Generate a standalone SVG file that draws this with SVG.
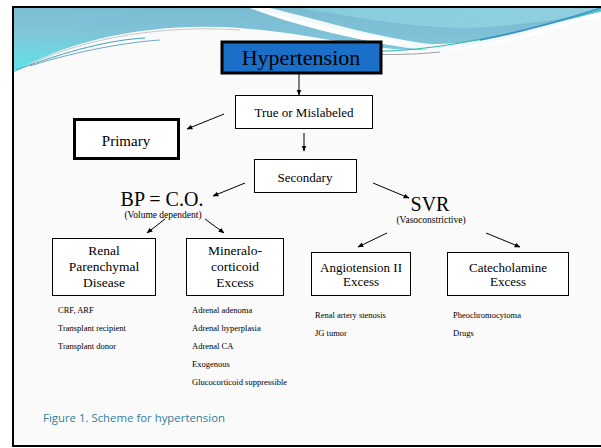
<svg xmlns="http://www.w3.org/2000/svg" width="601" height="448" viewBox="0 0 601 448">
<defs>
<linearGradient id="teal" x1="0" y1="1" x2="0.3" y2="0">
<stop offset="0" stop-color="#5fe3ea"/>
<stop offset="0.6" stop-color="#80c4d8"/>
<stop offset="1" stop-color="#7bbcd3"/>
</linearGradient>
<linearGradient id="teal2" x1="0" y1="0" x2="1" y2="0">
<stop offset="0" stop-color="#8fd8e4"/>
<stop offset="1" stop-color="#9fdbe8"/>
</linearGradient>
<marker id="ah" viewBox="0 0 10 10" refX="9" refY="5" markerWidth="6" markerHeight="6" orient="auto" markerUnits="userSpaceOnUse">
<path d="M0,1 L10,5 L0,9 Z" fill="#000"/>
</marker>
<style>
.box{fill:#fff;stroke:#000;stroke-width:1}
.thick{fill:#fff;stroke:#000;stroke-width:3}
.t{font-family:'Liberation Serif','Times New Roman',serif;fill:#000;text-anchor:middle}
.l{font-family:'Liberation Serif','Times New Roman',serif;fill:#000;font-size:8.5px}
.c line{stroke:#000;stroke-width:1;marker-end:url(#ah)}
</style>
</defs>
<rect x="0" y="0" width="601" height="448" fill="#fff"/>
<rect x="14" y="8" width="590" height="438" fill="#fafafa"/>
<path d="M14,8 L601,8 L601,12 C560,24 500,46 430,50 C370,52 320,34 240,28 C150,22 70,40 14,72 Z" fill="url(#teal)"/>
<path d="M250,8 L270,8 C320,20 370,36 430,44 C490,46 550,22 601,12 L601,16 C550,30 490,52 430,50 C370,46 310,26 250,8 Z" fill="#fff" opacity="0.9"/>
<path d="M250,8 C310,22 360,36 420,44 L390,45 C340,36 290,24 250,8 Z" fill="#ffffff"/>
<path d="M300,8 L601,8 L601,12 C560,20 510,26 470,28 C410,28 350,16 300,8 Z" fill="url(#teal2)" opacity="0.6"/>
<path d="M14,72 C70,42 150,24 240,30" fill="none" stroke="#c8c8c8" stroke-width="1"/>
<path d="M16,70 C70,50 110,40 145,38" fill="none" stroke="#3aa8b8" stroke-width="1"/>
<path d="M30,66 C80,50 130,42 160,40" fill="none" stroke="#4a90c0" stroke-width="0.8"/>
<path d="M330,50 C390,54 450,52 601,10" fill="none" stroke="#30b8a8" stroke-width="1"/>
<path d="M335,53 C390,56 420,54 440,52" fill="none" stroke="#a0a0a0" stroke-width="1"/>
<path d="M480,40 C530,30 570,18 601,8" fill="none" stroke="#3f8ed0" stroke-width="1.5"/>
<path d="M13,446 L13,7 L605,7" fill="none" stroke="#000" stroke-width="2"/>
<line x1="12" y1="446" x2="605" y2="446" stroke="#000" stroke-width="2"/>

<g class="c" id="connectors">
<line x1="299" y1="70" x2="299" y2="95"/>
<line x1="224" y1="114" x2="187" y2="129"/>
<line x1="304" y1="133" x2="304" y2="151"/>
<line x1="245" y1="183" x2="213" y2="196"/>
<line x1="373" y1="183" x2="409" y2="198"/>
<line x1="165" y1="219" x2="147" y2="233"/>
<line x1="205" y1="219" x2="224" y2="233"/>
<line x1="387" y1="233" x2="358" y2="247"/>
<line x1="486" y1="233" x2="520" y2="247"/>
</g>

<g id="hypertension">
<rect x="222" y="42" width="159" height="31" fill="#1a6fc9" stroke="#000" stroke-width="3"/>
<text class="t" x="301" y="65" font-size="22" font-family="Liberation Serif, serif">Hypertension</text>
</g>
<g id="true">
<rect class="box" x="235.5" y="95.5" width="137" height="33"/>
<text class="t" x="304" y="117" font-size="13" font-family="Liberation Serif, serif">True or Mislabeled</text>
</g>
<g id="primary">
<rect class="thick" x="74.5" y="119.5" width="104" height="39"/>
<text class="t" x="126" y="146" font-size="15" font-family="Liberation Serif, serif">Primary</text>
</g>
<g id="secondary">
<rect class="box" x="254.5" y="159.5" width="102" height="33"/>
<text class="t" x="305" y="182" font-size="13" font-family="Liberation Serif, serif">Secondary</text>
</g>
<g id="bp">
<text class="t" x="162" y="206" font-size="20" font-family="Liberation Serif, serif">BP = C.O.</text>
<text class="t" x="163" y="218" font-size="9.5" font-family="Liberation Serif, serif">(Volume dependent)</text>
</g>
<g id="svr">
<text class="t" x="430" y="211" font-size="20" font-family="Liberation Serif, serif">SVR</text>
<text class="t" x="431" y="223" font-size="9.5" font-family="Liberation Serif, serif">(Vasoconstrictive)</text>
</g>
<g id="renal">
<rect class="box" x="52.5" y="238.5" width="103" height="57"/>
<text class="t" x="104" y="255" font-size="13.5" font-family="Liberation Serif, serif">Renal</text>
<text class="t" x="104" y="271" font-size="13.5" font-family="Liberation Serif, serif">Parenchymal</text>
<text class="t" x="104" y="287" font-size="13.5" font-family="Liberation Serif, serif">Disease</text>
</g>
<g id="mineralo">
<rect class="box" x="186.5" y="238.5" width="97" height="57"/>
<text class="t" x="235" y="255" font-size="13.5" font-family="Liberation Serif, serif">Mineralo-</text>
<text class="t" x="235" y="271" font-size="13.5" font-family="Liberation Serif, serif">corticoid</text>
<text class="t" x="235" y="287" font-size="13.5" font-family="Liberation Serif, serif">Excess</text>
</g>
<g id="angiotension">
<rect class="box" x="311.5" y="252.5" width="99" height="43"/>
<text class="t" x="361" y="272" font-size="13" font-family="Liberation Serif, serif">Angiotension II</text>
<text class="t" x="361" y="286" font-size="13" font-family="Liberation Serif, serif">Excess</text>
</g>
<g id="catecholamine">
<rect class="box" x="447.5" y="252.5" width="121" height="43"/>
<text class="t" x="508" y="272" font-size="13" font-family="Liberation Serif, serif">Catecholamine</text>
<text class="t" x="508" y="286" font-size="13" font-family="Liberation Serif, serif">Excess</text>
</g>
<g id="lists" font-family="Liberation Serif, serif">
<text class="l" x="58" y="313">CRF, ARF</text>
<text class="l" x="58" y="331">Transplant recipient</text>
<text class="l" x="58" y="349">Transplant donor</text>
<text class="l" x="192" y="313">Adrenal adenoma</text>
<text class="l" x="192" y="331">Adrenal hyperplasia</text>
<text class="l" x="192" y="349">Adrenal CA</text>
<text class="l" x="192" y="367">Exogenous</text>
<text class="l" x="192" y="385">Glucocorticoid suppressible</text>
<text class="l" x="315" y="318">Renal artery stenosis</text>
<text class="l" x="315" y="336">JG tumor</text>
<text class="l" x="453" y="318">Pheochromocytoma</text>
<text class="l" x="453" y="336">Drugs</text>
</g>
<text x="43" y="422" font-family="Open Sans, Noto Sans, sans-serif" font-size="11.4" fill="#2f7f9c">Figure 1. Scheme for hypertension</text>
</svg>
